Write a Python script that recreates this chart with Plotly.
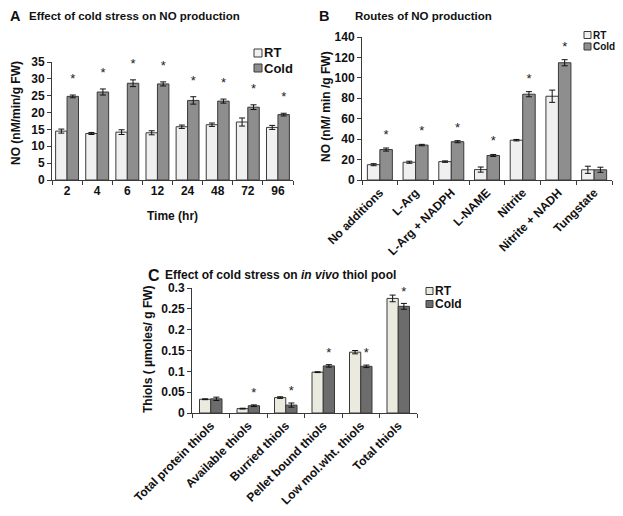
import plotly.graph_objects as go

# ---------------- data ----------------
time_labels = ["2", "4", "6", "12", "24", "48", "72", "96"]
a_rt = [14.5, 13.8, 14.2, 14.0, 15.8, 16.4, 17.2, 15.6]
a_rt_err = [0.6, 0.3, 0.7, 0.6, 0.5, 0.5, 1.2, 0.6]
a_cold = [24.8, 26.1, 28.7, 28.5, 23.6, 23.4, 21.6, 19.4]
a_cold_err = [0.4, 0.9, 1.0, 0.6, 1.1, 0.6, 0.7, 0.4]
a_sig = [1, 1, 1, 1, 1, 1, 1, 1]

route_labels = ["No additions", "L-Arg", "L-Arg + NADPH", "L-NAME", "Nitrite",
                "Nitrite + NADH", "Tungstate"]
b_rt = [15.0, 17.4, 18.0, 10.2, 39.0, 82.0, 10.0]
b_rt_err = [1.0, 1.0, 0.7, 2.5, 0.7, 6.0, 3.5]
b_cold = [29.8, 34.2, 37.5, 24.0, 84.0, 114.8, 10.0]
b_cold_err = [1.5, 0.7, 1.0, 1.0, 2.5, 3.0, 2.5]
b_sig = [1, 1, 1, 1, 1, 1, 0]

thiol_labels = ["Total protein thiols", "Available thiols", "Burried thiols",
                "Pellet bound thiols", "Low mol.wht. thiols", "Total thiols"]
c_rt = [0.033, 0.0105, 0.037, 0.098, 0.146, 0.275]
c_rt_err = [0.001, 0.001, 0.002, 0.001, 0.004, 0.008]
c_cold = [0.034, 0.0175, 0.019, 0.113, 0.112, 0.256]
c_cold_err = [0.004, 0.002, 0.005, 0.003, 0.003, 0.007]
c_sig = [0, 1, 1, 1, 1, 1]

series_names = ["RT", "Cold"]

# ---------------- styling ----------------
FONT = "Liberation Sans, Arial, sans-serif"
PAGE_W, PAGE_H = 623, 516
BODY = 8                     # default page margin of the browser
W, H = PAGE_W - BODY, PAGE_H - BODY
EDGE = "#3a3a3a"
COL_AB = ["#f0f0f0", "#8e8e8e"]
COL_C = ["#ebeadf", "#6c6c6c"]

fig = go.Figure()


def px_x(p):
    return (p - BODY) / W


def px_y(p):
    return 1 - (p - BODY) / H


def add_panel(labels, rt, rt_err, cold, cold_err, sig, xa, ya, cols, w, pad):
    fig.add_trace(go.Bar(
        x=labels, y=rt, name=series_names[0], xaxis=xa, yaxis=ya, showlegend=False,
        offset=-w, width=w, marker=dict(color=cols[0], line=dict(color=EDGE, width=1)),
        error_y=dict(type="data", array=rt_err, color="#111", thickness=1, width=3),
    ))
    fig.add_trace(go.Bar(
        x=labels, y=cold, name=series_names[1], xaxis=xa, yaxis=ya, showlegend=False,
        offset=0, width=w, marker=dict(color=cols[1], line=dict(color=EDGE, width=1)),
        error_y=dict(type="data", array=cold_err, color="#111", thickness=1, width=3),
    ))
    # significance stars above the cold bars
    star_y = [(c + e + pad) if s else 0 for c, e, s in zip(cold, cold_err, sig)]
    star_t = ["*" if s else "" for s in sig]
    fig.add_trace(go.Bar(
        x=labels, y=star_y, text=star_t, textposition="outside", xaxis=xa, yaxis=ya,
        offset=0, width=w, marker=dict(color="rgba(0,0,0,0)", line=dict(width=0)),
        textfont=dict(family=FONT, size=13, color="#222"), cliponaxis=False,
        showlegend=False, hoverinfo="skip",
    ))


add_panel(time_labels, a_rt, a_rt_err, a_cold, a_cold_err, a_sig, "x", "y", COL_AB, 0.38, 1.8)
add_panel(route_labels, b_rt, b_rt_err, b_cold, b_cold_err, b_sig, "x2", "y2", COL_AB, 0.35, 3)
add_panel(thiol_labels, c_rt, c_rt_err, c_cold, c_cold_err, c_sig, "x3", "y3", COL_C, 0.30, 0.004)

axis_common = dict(showline=True, linecolor=EDGE, linewidth=1, ticks="outside",
                   ticklen=4, tickcolor=EDGE, showgrid=False, zeroline=False,
                   automargin=False,
                   tickfont=dict(family=FONT, size=12, color="#111", weight="bold"))
xcat = dict(axis_common, type="category", tickson="boundaries")

fig.update_layout(
    width=W, height=H, margin=dict(l=0, r=0, t=0, b=0, autoexpand=False),
    paper_bgcolor="white", plot_bgcolor="white", barmode="overlay",
    font=dict(family=FONT, color="#111"), showlegend=False,
    xaxis=dict(xcat, domain=[px_x(52), px_x(293)], anchor="y",
               title=dict(text="<b>Time (hr)</b>", font=dict(size=12), standoff=14)),
    yaxis=dict(axis_common, domain=[px_y(180), px_y(62)], anchor="x", range=[0, 35], dtick=5),
    xaxis2=dict(xcat, domain=[px_x(362), px_x(612)], anchor="y2", tickangle=-45),
    yaxis2=dict(axis_common, domain=[px_y(180), px_y(37)], anchor="x2", range=[0, 140], dtick=20),
    xaxis3=dict(xcat, domain=[px_x(192), px_x(417)], anchor="y3", tickangle=-45),
    yaxis3=dict(axis_common, domain=[px_y(413), px_y(288)], anchor="x3", range=[0, 0.3], dtick=0.05),
)

# panel titles
titles = [
    (9, 16.5, "<b>A</b>", 14.5), (28, 16, "<b>Effect of cold stress on NO production</b>", 11.5),
    (318, 16.5, "<b>B</b>", 14.5), (354, 16, "<b>Routes of NO production</b>", 11.5),
    (147, 275, "<b>C</b>", 16), (164, 275, "<b>Effect of cold stress on <i>in vivo</i> thiol pool</b>", 12),
]
for x, y, t, s in titles:
    fig.add_annotation(x=px_x(x), y=px_y(y), xref="paper", yref="paper", text=t,
                       showarrow=False, xanchor="left", yanchor="middle", borderpad=0,
                       font=dict(family=FONT, size=s, color="#111"))

# y-axis titles
ytitles = [(16, 113, "<b>NO (nM/min/g FW)</b>"), (326, 107, "<b>NO (nM/ min /g FW)</b>"),
           (148, 349, "<b>Thiols ( µmoles/ g FW)</b>")]
for x, y, t in ytitles:
    fig.add_annotation(x=px_x(x), y=px_y(y), xref="paper", yref="paper", text=t,
                       showarrow=False, textangle=-90, xanchor="center", yanchor="middle",
                       borderpad=0, font=dict(family=FONT, size=12, color="#111"))

# legends: (box left, RT row centre, row spacing, box size, font size, colours)
legends = [(254, 53, 15, 8, 13, COL_AB), (584, 35, 11.5, 7, 10, COL_AB),
           (426, 291, 13, 7, 12, COL_C)]
for bx, cy, dy, bs, fs, cols in legends:
    for i, (nm, col) in enumerate(zip(series_names, cols)):
        c = cy + i * dy
        fig.add_shape(type="rect", xref="paper", yref="paper",
                      x0=px_x(bx), x1=px_x(bx + bs), y0=px_y(c - bs / 2), y1=px_y(c + bs / 2),
                      fillcolor=col, line=dict(color=EDGE, width=1))
        fig.add_annotation(x=px_x(bx + bs + 1), y=px_y(c), xref="paper", yref="paper",
                           text="<b>%s</b>" % nm, showarrow=False, xanchor="left", yanchor="middle",
                           borderpad=0, font=dict(family=FONT, size=fs, color="#111"))

fig.write_html("out.html")
